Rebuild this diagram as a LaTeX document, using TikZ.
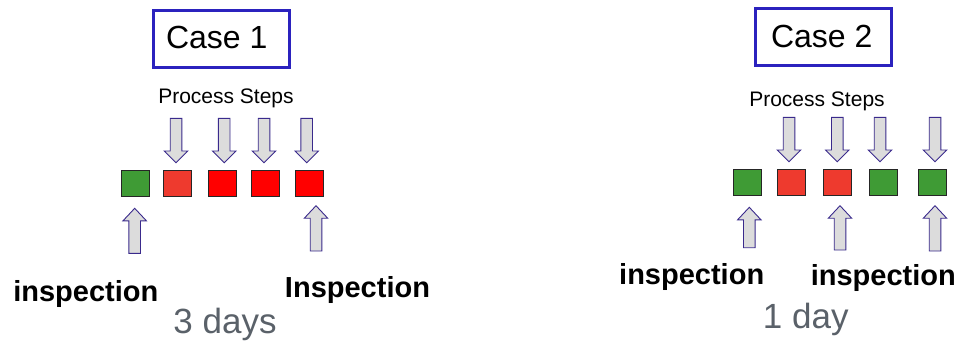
\documentclass[tikz,border=0pt]{standalone}
\usepackage{fontspec}
\setmainfont{Liberation Sans}
\definecolor{boxblue}{HTML}{2B22BE}
\definecolor{grn}{HTML}{3F9B35}
\definecolor{orred}{HTML}{EE3A2E}
\definecolor{pured}{HTML}{FF0000}
\definecolor{arrfill}{HTML}{DCDCDC}
\definecolor{arredge}{HTML}{3A2A8C}
\definecolor{daygray}{HTML}{5A6169}
\tikzset{
  casebox/.style={draw=boxblue, line width=3pt, fill=white, minimum width=136pt, minimum height=57pt, inner sep=0pt},
  casetext/.style={inner sep=0pt, font=\fontsize{32}{38}\selectfont},
  sq/.style={draw=black!85, line width=1pt, minimum width=28pt, minimum height=26.5pt, inner sep=0pt},
  blockarrow/.style={draw=arredge, fill=arrfill, line width=0.9pt, line join=miter},
  steplabel/.style={anchor=base, inner sep=0pt, font=\fontsize{21}{25}\selectfont},
  insplabel/.style={anchor=base, inner sep=0pt, font=\fontsize{29}{34}\selectfont\bfseries},
  daylabel/.style={anchor=base, inner sep=0pt, text=daygray, font=\fontsize{35}{40}\selectfont}
}
\newcommand\dnarrow[3]{%
  \draw[blockarrow] ({#1-5.8},#2) -- ({#1+5.8},#2) -- ({#1+5.8},{#3-11.7}) -- ({#1+11.7},{#3-11.7}) -- (#1,#3) -- ({#1-11.7},{#3-11.7}) -- ({#1-5.8},{#3-11.7}) -- cycle;}
\newcommand\uparrowshape[3]{%
  \draw[blockarrow] (#1,#2) -- ({#1+11.7},{#2+12.5}) -- ({#1+5.8},{#2+12.5}) -- ({#1+5.8},#3) -- ({#1-5.8},#3) -- ({#1-5.8},{#2+12.5}) -- ({#1-11.7},{#2+12.5}) -- cycle;}
\begin{document}
\begin{tikzpicture}[x=1pt,y=-1pt]
\useasboundingbox (0,0) rectangle (959,341);
% ---------- Case 1 ----------
\node[casebox] (case1) at (221,38.5) {};
\node[casetext] (case1t) at (216.7,37.5) {Case 1};
\node[steplabel] (steps1) at (226,103) {Process Steps};
\dnarrow{176}{118.3}{162.7}
\dnarrow{224.2}{118.3}{162.7}
\dnarrow{264}{118.3}{162.7}
\dnarrow{306.7}{118.3}{162.7}
\node[sq, fill=grn]   (a1) at (135,183.3) {};
\node[sq, fill=orred] (a2) at (177.5,183.3) {};
\node[sq, fill=pured] (a3) at (222.5,183.3) {};
\node[sq, fill=pured] (a4) at (265,183.3) {};
\node[sq, fill=pured] (a5) at (309,183.3) {};
\uparrowshape{134.7}{208.3}{253.3}
\uparrowshape{316}{205.7}{251}
\node[insplabel] (insp1a) at (85.8,301.5) {inspection};
\node[insplabel] (insp1b) at (357.5,297.3) {Inspection};
\node[daylabel] (days1) at (225,333.3) {3 days};
% ---------- Case 2 ----------
\node[casebox] (case2) at (823.5,37) {};
\node[casetext] (case2t) at (821.7,36) {Case 2};
\node[steplabel] (steps2) at (817,106) {Process Steps};
\dnarrow{789}{117.3}{161.7}
\dnarrow{837.3}{117.3}{161.7}
\dnarrow{880}{117.3}{161.7}
\dnarrow{935}{117.3}{161.7}
\node[sq, fill=grn]   (b1) at (747,182.3) {};
\node[sq, fill=orred] (b2) at (791.5,182.3) {};
\node[sq, fill=orred] (b3) at (837,182.3) {};
\node[sq, fill=grn]   (b4) at (883,182.3) {};
\node[sq, fill=grn]   (b5) at (932,182.3) {};
\uparrowshape{749.3}{207.3}{247.7}
\uparrowshape{840}{205.7}{250}
\uparrowshape{935}{205.7}{251}
\node[insplabel] (insp2a) at (691.7,284.3) {inspection};
\node[insplabel] (insp2b) at (883.3,285) {inspection};
\node[daylabel] (days2) at (805.8,328.3) {1 day};
\end{tikzpicture}
\end{document}
